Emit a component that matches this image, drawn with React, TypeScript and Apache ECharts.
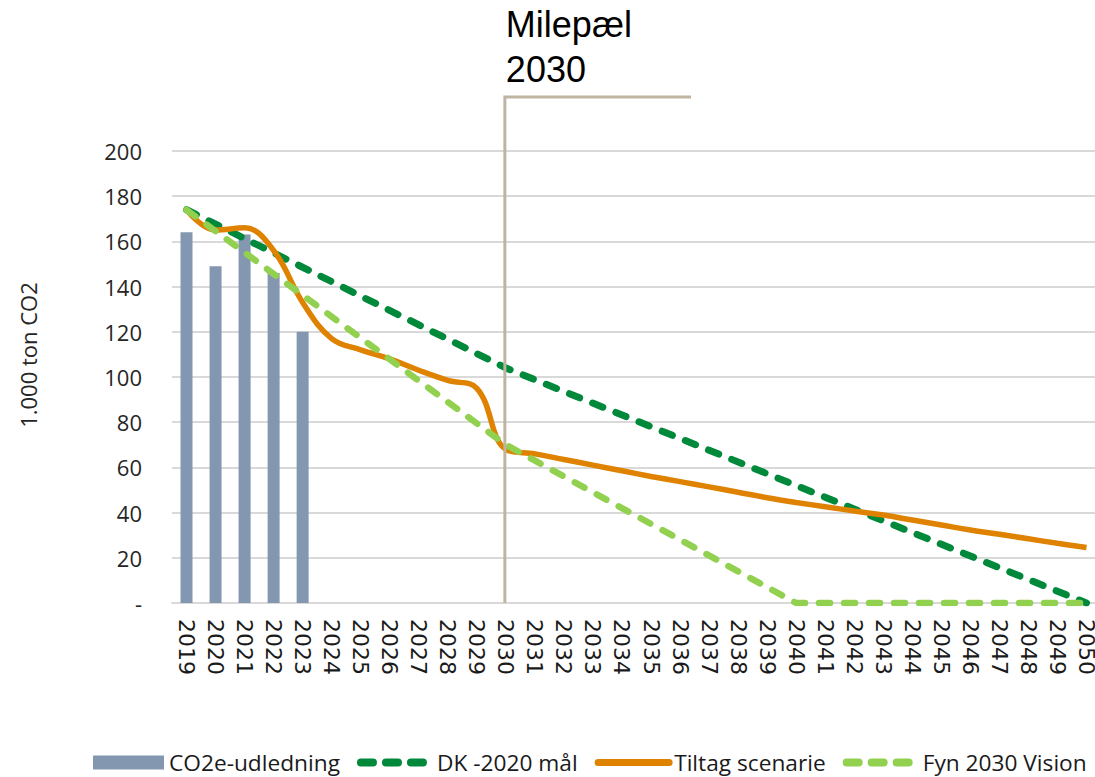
import React, { useEffect, useRef } from 'react';
import * as echarts from 'echarts';

const years = [
  '2019', '2020', '2021', '2022', '2023', '2024', '2025', '2026', '2027', '2028', '2029',
  '2030', '2031', '2032', '2033', '2034', '2035', '2036', '2037', '2038', '2039', '2040',
  '2041', '2042', '2043', '2044', '2045', '2046', '2047', '2048', '2049', '2050',
];

const udledning = [164, 149, 163, 146, 120];

const dkMaal = [
  174, null, null, null, null, null, null, null, null, null, null,
  104, null, null, null, null, null, null, null, null, null, null,
  null, null, null, null, null, null, null, null, null, 0,
];

const tiltag = [
  174, 165, 166, 156, 133, 117, 112, 108, 103, 98.5, 95,
  68, 66, 63.5, 61, 58.5, 56, 53.7, 51.4, 49, 46.6, 44.5,
  42.6, 40.7, 38.9, 36.7, 34.5, 32.3, 30.4, 28.4, 26.4, 24.6,
];

const fynVision = [
  174, null, null, null, null, null, null, null, null, null, null,
  70, null, null, null, null, null, null, null, null, null, 0,
  0, 0, 0, 0, 0, 0, 0, 0, 0, 0,
];

const seriesNames = ['CO2e-udledning', 'DK -2020 mål', 'Tiltag scenarie', 'Fyn 2030 Vision'];
const milestoneYear = '2030';
const milestoneTitle = ['Milepæl', '2030'];
const yAxisTitle = '1.000 ton CO2';

const C_BAR = '#8497B0';
const C_DK = '#00893A';
const C_TILTAG = '#DE8200';
const C_FYN = '#92D050';

export default function App() {
  const ref = useRef<HTMLDivElement>(null);

  useEffect(() => {
    document.body.style.margin = '0';
    document.body.style.overflow = 'hidden';
    const chart = echarts.init(ref.current!, null, { renderer: 'svg' });
    const hiddenSymbol = { opacity: 0, color: 'transparent', borderWidth: 0 };
    chart.setOption({
      animation: false,
      backgroundColor: '#ffffff',
      grid: { left: 172, top: 151, width: 929, height: 452, containLabel: false },
      legend: {
        left: 88,
        top: 746,
        itemWidth: 71,
        itemHeight: 14,
        itemGap: 17,
        textStyle: { fontFamily: 'Open Sans', fontSize: 22.7, color: '#1a1a1a' },
        data: [
          { name: seriesNames[0], icon: 'rect', itemStyle: { color: C_BAR } },
          {
            name: seriesNames[1],
            itemStyle: hiddenSymbol,
            lineStyle: { color: C_DK, width: 8, type: [12, 13], cap: 'round' },
          },
          {
            name: seriesNames[2],
            itemStyle: hiddenSymbol,
            lineStyle: { color: C_TILTAG, width: 7, type: 'solid', cap: 'round' },
          },
          {
            name: seriesNames[3],
            itemStyle: hiddenSymbol,
            lineStyle: { color: C_FYN, width: 8, type: [12, 13], cap: 'round' },
          },
        ],
      },
      xAxis: {
        type: 'category',
        data: years,
        boundaryGap: true,
        axisLine: { show: true, lineStyle: { color: '#D9D9D9', width: 2 } },
        axisTick: { show: false },
        axisLabel: {
          interval: 0,
          rotate: -90,
          margin: 16,
          fontFamily: 'DejaVu Sans',
          fontSize: 22,
          color: '#1a1a1a',
        },
      },
      yAxis: {
        type: 'value',
        min: 0,
        max: 200,
        interval: 20,
        axisLine: { show: false },
        axisTick: { show: false },
        splitLine: { lineStyle: { color: '#D9D9D9', width: 2 } },
        axisLabel: {
          margin: 30,
          fontFamily: 'Open Sans',
          fontSize: 22,
          color: '#262626',
          formatter: (v: number) => (v === 0 ? '-' : String(v)),
        },
      },
      series: [
        {
          name: seriesNames[0],
          type: 'bar',
          data: udledning,
          barWidth: 12,
          itemStyle: { color: C_BAR },
        },
        {
          name: seriesNames[1],
          type: 'line',
          data: dkMaal,
          connectNulls: true,
          symbol: 'none',
          lineStyle: { color: C_DK, width: 7, type: [11, 14], cap: 'round' },
          itemStyle: { color: C_DK },
        },
        {
          name: seriesNames[2],
          type: 'line',
          data: tiltag,
          smooth: 0.4,
          symbol: 'none',
          lineStyle: { color: C_TILTAG, width: 5.5 },
          itemStyle: { color: C_TILTAG },
        },
        {
          name: seriesNames[3],
          type: 'line',
          data: fynVision,
          connectNulls: true,
          symbol: 'none',
          lineStyle: { color: C_FYN, width: 6.5, type: [11, 14], cap: 'round' },
          itemStyle: { color: C_FYN },
        },
      ],
    });

    const xm = chart.convertToPixel({ xAxisIndex: 0 }, milestoneYear) as number;
    const y0 = chart.convertToPixel({ yAxisIndex: 0 }, 0) as number;
    chart.setOption({
      graphic: [
        {
          type: 'polyline',
          z: 100,
          shape: { points: [[xm - 1, y0], [xm - 1, 97], [691, 97]] },
          style: { stroke: '#BFB4A2', lineWidth: 3, fill: 'none' },
        },
        {
          type: 'text',
          x: xm,
          y: 24,
          style: {
            text: milestoneTitle[0],
            font: '36px "Liberation Sans"',
            fill: '#000000',
            align: 'left',
            verticalAlign: 'middle',
          },
        },
        {
          type: 'text',
          x: xm,
          y: 69,
          style: {
            text: milestoneTitle[1],
            font: '36px "Liberation Sans"',
            fill: '#000000',
            align: 'left',
            verticalAlign: 'middle',
          },
        },
        {
          type: 'text',
          x: 28,
          y: 355,
          rotation: Math.PI / 2,
          style: {
            text: yAxisTitle,
            font: '22px "Open Sans"',
            fill: '#262626',
            align: 'center',
            verticalAlign: 'middle',
          },
        },
      ],
    });

    return () => chart.dispose();
  }, []);

  return (
    <div
      ref={ref}
      style={{ position: 'fixed', left: 0, top: 0, width: 1110, height: 777 }}
    />
  );
}
